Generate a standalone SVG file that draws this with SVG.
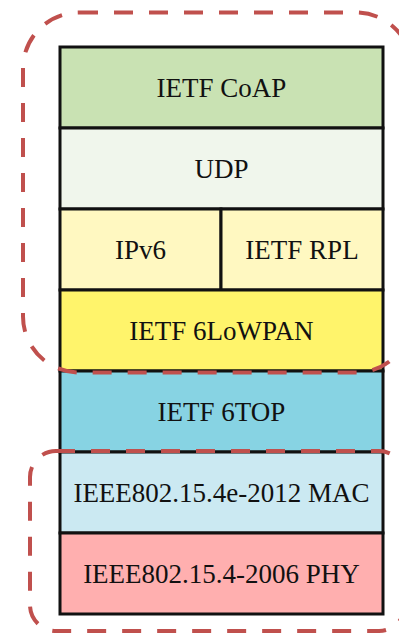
<svg xmlns="http://www.w3.org/2000/svg" width="399" height="635" viewBox="0 0 399 635">
  <style>
    .layer { stroke: #111; stroke-width: 3; }
    .lbl { font-family: "Liberation Serif", "Times New Roman", serif; font-size: 27px; fill: #111; text-anchor: middle; }
    .scope { fill: none; stroke: #c0504d; stroke-width: 4; stroke-dasharray: 19 16; }
  </style>
  <rect width="399" height="635" fill="#ffffff"/>

  <!-- protocol stack layers -->
  <g id="coap">
    <rect class="layer" x="60" y="47" width="323" height="81" fill="#c9e2b3"/>
    <text class="lbl" x="221.5" y="97">IETF CoAP</text>
  </g>
  <g id="udp">
    <rect class="layer" x="60" y="128" width="323" height="81" fill="#f0f6ec"/>
    <text class="lbl" x="221.5" y="178">UDP</text>
  </g>
  <g id="ipv6">
    <rect class="layer" x="60" y="209" width="161" height="81" fill="#fff8c1"/>
    <text class="lbl" x="140.5" y="259">IPv6</text>
  </g>
  <g id="rpl">
    <rect class="layer" x="221" y="209" width="162" height="81" fill="#fff8c1"/>
    <text class="lbl" x="302" y="259">IETF RPL</text>
  </g>
  <g id="sixlowpan">
    <rect class="layer" x="60" y="290" width="323" height="81" fill="#fff46b"/>
    <text class="lbl" x="221.5" y="340">IETF 6LoWPAN</text>
  </g>
  <g id="sixtop">
    <rect class="layer" x="60" y="371" width="323" height="81" fill="#87d3e3"/>
    <text class="lbl" x="221.5" y="421">IETF 6TOP</text>
  </g>
  <g id="mac">
    <rect class="layer" x="60" y="452" width="323" height="81" fill="#cbe9f2"/>
    <text class="lbl" x="221.5" y="502">IEEE802.15.4e-2012 MAC</text>
  </g>
  <g id="phy">
    <rect class="layer" x="60" y="533" width="323" height="81" fill="#ffafaf"/>
    <text class="lbl" x="221.5" y="583">IEEE802.15.4-2006 PHY</text>
  </g>

  <!-- dashed grouping outlines -->
  <g id="groupings">
    <rect class="scope" x="23" y="12.5" width="389" height="360" rx="56" ry="56"/>
    <rect class="scope" x="30" y="451" width="375" height="180" rx="26" ry="26"/>
  </g>
</svg>
